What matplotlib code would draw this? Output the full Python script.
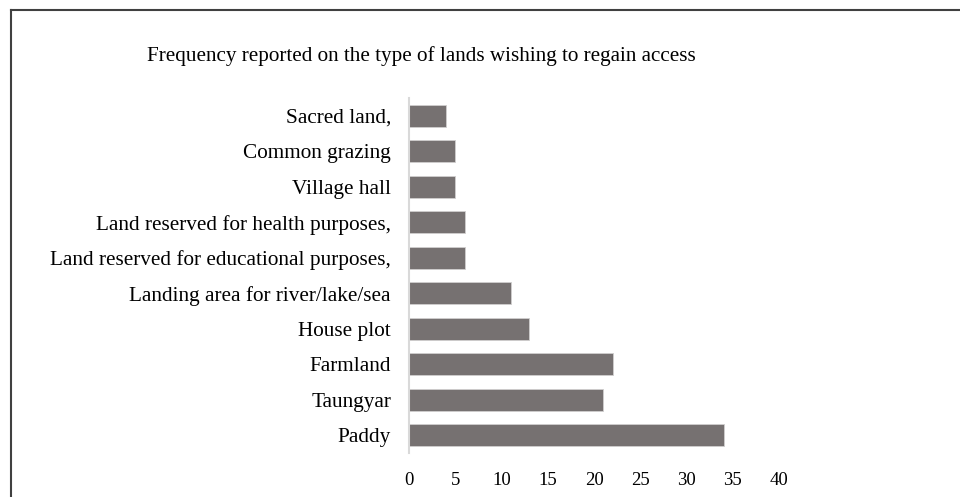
import matplotlib
matplotlib.use("Agg")
import matplotlib.pyplot as plt
from matplotlib.lines import Line2D

categories = [
    "Paddy",
    "Taungyar",
    "Farmland",
    "House plot",
    "Landing area for river/lake/sea",
    "Land reserved for educational purposes,",
    "Land reserved for health purposes,",
    "Village hall",
    "Common grazing",
    "Sacred land,",
]
frequencies = [34, 21, 22, 13, 11, 6, 6, 5, 5, 4]
x_ticks = [0, 5, 10, 15, 20, 25, 30, 35, 40]
title = "Frequency reported on the type of lands wishing to regain access"

plt.rcParams["font.family"] = ["Liberation Serif", "DejaVu Serif"]

W, H = 960, 497
fig = plt.figure(figsize=(W / 100, H / 100), dpi=100)

# axes placed in pixel terms: x from 409 to 779, y from 98 to 453
left, right, top, bottom = 409, 779, 98, 453
ax = fig.add_axes([left / W, 1 - bottom / H, (right - left) / W, (bottom - top) / H])

ypos = list(range(len(categories)))
ax.barh(ypos, frequencies, height=0.62, color="#767171",
        edgecolor="#d0cece", linewidth=0.6)

ax.set_xlim(0, 40)
ax.set_ylim(-0.5, len(categories) - 0.5)
ax.set_yticks(ypos)
ax.set_yticklabels(categories, fontsize=15.3)
ax.set_xticks(x_ticks)
ax.set_xticklabels([str(t) for t in x_ticks], fontsize=13.5)
ax.tick_params(axis="both", length=0, colors="black")
ax.tick_params(axis="y", pad=13)
ax.tick_params(axis="x", pad=14)

for side in ("top", "right", "bottom"):
    ax.spines[side].set_visible(False)
ax.spines["left"].set_color("#d9d9d9")
ax.spines["left"].set_linewidth(1.5)

fig.text(147 / W, 1 - 56 / H, title, fontsize=15.2, ha="left", va="center")

# frame around the chart area
bx, by = 11 / W, 1 - 10 / H
fig.add_artist(Line2D([bx, 1.0], [by, by], transform=fig.transFigure,
                      color="#404040", linewidth=1.5))
fig.add_artist(Line2D([bx, bx], [0.0, by], transform=fig.transFigure,
                      color="#404040", linewidth=1.5))

fig.savefig("out.png", dpi=100, facecolor="white")
